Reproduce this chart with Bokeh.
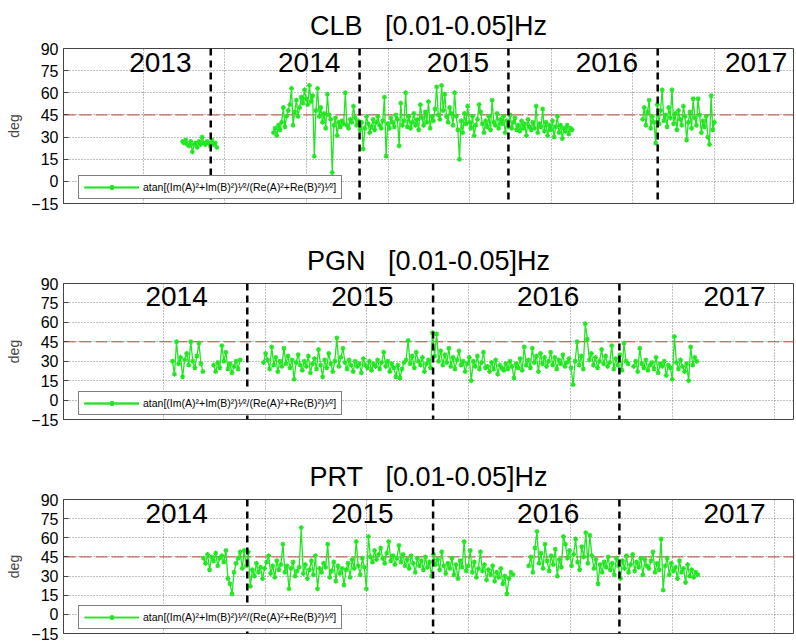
import numpy as np
import pandas as pd
from bokeh.plotting import figure
from bokeh.layouts import column
from bokeh.models import Span, FixedTicker, Range1d, ColumnDataSource
from bokeh.embed import file_html
from bokeh.resources import INLINE
from bokeh.core.properties import value

# ---------------- data ----------------
STEP_DAYS = 4  # sampling of the series (days)
band = "[0.01-0.05]Hz"
legend_text = "atan[(Im(A)\u00b2+Im(B)\u00b2)\u00b9\u2044\u00b2/(Re(A)\u00b2+Re(B)\u00b2)\u00b9\u2044\u00b2]"
y_ticks = [-15, 0, 15, 30, 45, 60, 75, 90]
ref_level = 45

# CLB (days counted from 2013-01-01)
clb_origin = "2013-01-01"
clb_years = [2013, 2014, 2015, 2016, 2017]
clb_x_end = 1794
clb_seg_start = [296, 519, 1424]
clb_seg_a = [27, 26, 28, 25, 24, 27, 20, 25, 26, 23, 27, 25, 30, 26, 25, 27, 26, 24, 28, 25, 26, 23]
clb_seg_b = [33, 36, 31, 38, 35, 40, 50, 37, 44, 48,
             52, 63, 38, 47, 55, 44, 50, 57, 53, 62,
             56, 52, 65, 54, 58, 17, 48, 63, 44, 50,
             40, 46, 36, 59, 45, 42, 6, 38, 43, 31,
             40, 37, 41, 39, 60, 38, 36, 42, 40, 51,
             43, 38, 41, 35, 40, 22, 36, 44, 39, 33,
             37, 42, 35, 40, 44, 38, 36, 41, 57, 17,
             39, 36, 43, 40, 37, 45, 42, 24, 53, 38,
             41, 60, 37, 44, 36, 40, 46, 38, 42, 35,
             52, 43, 38, 47, 40, 54, 36, 44, 41, 49,
             64, 45, 42, 65, 48, 59, 44, 40, 50, 46,
             38, 60, 44, 35, 15, 41, 33, 46, 39, 51,
             40, 36, 44, 31, 38, 42, 52, 47, 39, 33,
             41, 37, 44, 35, 55, 40, 38, 46, 36, 42,
             39, 44, 33, 41, 37, 45, 36, 40, 43, 35,
             38, 34, 41, 36, 39, 31, 42, 37, 35, 40,
             36, 51, 33, 39, 37, 49, 34, 40, 31, 38,
             35, 41, 30, 37, 44, 33, 38, 29, 36, 34,
             38, 32, 36, 35]
clb_seg_c = [42, 50, 38, 47, 55, 36, 44, 40, 26, 52,
             39, 48, 62, 41, 45, 37, 50, 43, 62, 39,
             46, 35, 48, 42, 38, 51, 44, 28, 40, 47,
             36, 56, 43, 38, 56, 45, 33, 41, 37, 44,
             30, 25, 58, 35, 40]

# PGN (days counted from 2014-01-01)
pgn_origin = "2014-01-01"
pgn_years = [2014, 2015, 2016, 2017]
pgn_x_end = 1438
pgn_seg_start = [218, 299, 397, 1124]
pgn_seg_a = [30, 20, 45, 28, 33, 18, 31, 36, 27, 45, 30, 25, 34, 44, 28, 22]
pgn_seg_b = [27, 22, 29, 25, 42, 30, 37, 24, 28, 21, 26, 30, 24, 31]
pgn_seg_c = [29, 36, 31, 24, 41, 27, 33, 22, 30, 26,
             40, 28, 34, 25, 31, 16, 29, 35, 27, 23,
             30, 26, 34, 21, 28, 32, 24, 39, 27, 18,
             31, 25, 36, 28, 22, 30, 48, 26, 33, 40,
             29, 24, 31, 27, 22, 30, 26, 28, 21, 32,
             27, 25, 30, 23, 28, 26, 31, 24, 29, 37,
             26, 30, 22, 28, 25, 18, 27, 17, 24, 29,
             31, 46, 28, 34, 25, 37, 30, 27, 33, 22,
             28, 31, 25, 52, 34, 51, 30, 38, 27, 35,
             29, 40, 26, 33, 24, 31, 38, 27, 30, 22,
             28, 33, 15, 30, 26, 34, 24, 29, 37, 25,
             26, 22, 29, 24, 31, 20, 27, 25, 23, 28,
             24, 30, 26, 17, 28, 25, 32, 23, 41, 27,
             31, 25, 40, 29, 34, 22, 36, 28, 33, 26,
             30, 37, 27, 33, 24, 31, 28, 35, 26, 29,
             32, 25, 12, 30, 45, 27, 34, 24, 59, 47,
             31, 36, 27, 33, 25, 30, 39, 28, 34, 26,
             29, 42, 24, 32, 27, 35, 23, 44, 30, 28]
pgn_seg_d = [26, 30, 22, 40, 28, 25, 31, 23, 27, 29,
             24, 33, 21, 28, 26, 30, 19, 27, 25, 16,
             49, 29, 24, 31, 26, 22, 28, 15, 41, 27, 33, 30]

# PRT (days counted from 2014-01-01)
prt_origin = "2014-01-01"
prt_years = [2014, 2015, 2016, 2017]
prt_x_end = 1438
prt_seg_start = [279, 918]
prt_seg_a = [44, 40, 47, 35, 45, 42, 48, 38, 44, 46,
             41, 50, 28, 24, 16, 33, 40, 44, 49, 36,
             50, 38, 49, 22, 35, 30, 40, 33, 37, 28,
             36, 41, 46, 32, 38, 29, 42, 35, 39, 55,
             33, 38, 20, 36, 41, 30, 34, 37, 68, 32,
             39, 28, 35, 42, 31, 46, 20, 36, 33, 40,
             37, 55, 29, 34, 41, 26, 38, 32, 36, 23,
             35, 40, 29, 43, 36, 57, 38, 31, 44, 37,
             20, 61, 45, 41, 50, 43, 47, 52, 44, 40,
             48, 57, 42, 46, 39, 44, 54, 41, 47, 38,
             43, 36, 46, 40, 33, 44, 38, 42, 35, 45,
             37, 41, 30, 47, 39, 43, 35, 49, 38, 32,
             40, 36, 44, 31, 39, 28, 42, 37, 57, 34,
             38, 50, 33, 41, 29, 36, 49, 34, 39, 27,
             35, 31, 38, 26, 33, 29, 36, 24, 30, 16,
             28, 33, 31]
prt_seg_b = [38, 45, 33, 52, 65, 40, 48, 36, 55, 42,
             34, 46, 39, 51, 30, 43, 37, 61, 55, 44,
             50, 38, 47, 59, 41, 35, 53, 45, 64, 40,
             62, 46, 36, 43, 24, 39, 33, 41, 37, 45,
             35, 40, 31, 44, 38, 28, 42, 36, 46, 33,
             39, 47, 34, 41, 37, 44, 31, 43, 38, 36,
             42, 49, 33, 40, 35, 59, 19, 38, 44, 31,
             40, 34, 37, 28, 42, 33, 36, 25, 39, 30,
             35, 29, 33, 31]

# ---------------- styling ----------------
FONT = "Liberation Sans"
GREEN = "#22e622"
FRAME_W = 730
NBSP3 = "\u00a0\u00a0\u00a0"


def make_panel(station, origin, years, x_end, seg_starts, segs,
               frame_h, top, bottom, year_y):
    p = figure(frame_width=FRAME_W, frame_height=frame_h,
               min_border_left=63, min_border_right=3,
               min_border_top=top, min_border_bottom=bottom,
               x_range=Range1d(4, x_end), y_range=Range1d(-15, 90),
               x_axis_location=None,
               output_backend="svg", toolbar_location=None,
               background_fill_color="white", border_fill_color="white")
    p.title.text = f"{station}{NBSP3}{band}"
    p.title.align = "center"
    p.title.text_font = FONT
    p.title.text_font_size = "27px"
    p.title.text_font_style = "normal"
    p.title.text_color = "black"
    p.title.standoff = 15

    p.outline_line_color = "#444444"
    p.outline_line_width = 1

    ax = p.yaxis[0]
    ax.ticker = FixedTicker(ticks=y_ticks)
    ax.axis_label = "deg"
    ax.axis_label_text_font = FONT
    ax.axis_label_text_font_size = "14px"
    ax.axis_label_text_font_style = "normal"
    ax.axis_label_standoff = 6
    ax.major_label_text_font = FONT
    ax.major_label_text_font_size = "16px"
    ax.major_label_text_color = "black"
    ax.major_label_standoff = 5
    ax.major_tick_in = 5
    ax.major_tick_out = 0
    ax.minor_tick_line_color = None
    ax.axis_line_color = "#444444"
    ax.major_tick_line_color = "#444444"

    p.xgrid.ticker = FixedTicker(ticks=list(range(0, 2001, 200)))
    p.ygrid.ticker = FixedTicker(ticks=y_ticks)
    for g in (p.xgrid, p.ygrid):
        g.grid_line_color = "#808080"
        g.grid_line_dash = "1 2"
        g.grid_line_width = 1

    # reference level
    p.add_layout(Span(location=ref_level, dimension="width", line_color="#c04838",
                      line_width=1, line_dash="12 4", level="underlay"))

    # series
    for start, vals in zip(seg_starts, segs):
        xs = start + STEP_DAYS * np.arange(len(vals))
        src = ColumnDataSource(dict(x=xs, y=vals))
        p.line("x", "y", source=src, line_color=GREEN, line_width=1.3,
               legend_label=legend_text)
        p.scatter("x", "y", source=src, marker="asterisk", size=5,
                  line_color=GREEN, line_width=1.2, legend_label=legend_text)

    # year boundaries and labels
    org = pd.Timestamp(origin)
    ystart = [(pd.Timestamp(f"{y}-01-01") - org).days for y in years]
    for b in ystart[1:]:
        p.add_layout(Span(location=b, dimension="height", line_color="black",
                          line_width=2.5, line_dash="7 5"))
    lab = ColumnDataSource(dict(x=[s + 165 for s in ystart],
                                y=[year_y] * len(years),
                                t=[str(y) for y in years]))
    p.text("x", "y", text="t", source=lab, text_font=value(FONT),
           text_font_size="28px", text_align="left", text_baseline="alphabetic",
           text_color="black")

    lg = p.legend[0]
    lg.location = (15, 4)
    lg.margin = 0
    lg.padding = 5
    lg.spacing = 0
    lg.glyph_width = 55
    lg.glyph_height = 12
    lg.label_standoff = 4
    lg.label_height = 12
    lg.label_text_font = FONT
    lg.label_text_font_size = "10.5px"
    lg.label_text_color = "black"
    lg.border_line_color = "black"
    lg.border_line_width = 1
    lg.background_fill_color = "white"
    lg.background_fill_alpha = 1
    return p


p1 = make_panel("CLB", clb_origin, clb_years, clb_x_end, clb_seg_start,
                [clb_seg_a, clb_seg_b, clb_seg_c], 155, 48, 22, 80.5)
p2 = make_panel("PGN", pgn_origin, pgn_years, pgn_x_end, pgn_seg_start,
                [pgn_seg_a, pgn_seg_b, pgn_seg_c, pgn_seg_d], 136, 58, 21, 79.7)
p3 = make_panel("PRT", prt_origin, prt_years, prt_x_end, prt_seg_start,
                [prt_seg_a, prt_seg_b], 134, 59, 8, 78.8)

layout = column(p1, p2, p3, spacing=0)
open("out.html", "w").write(file_html(layout, INLINE))
